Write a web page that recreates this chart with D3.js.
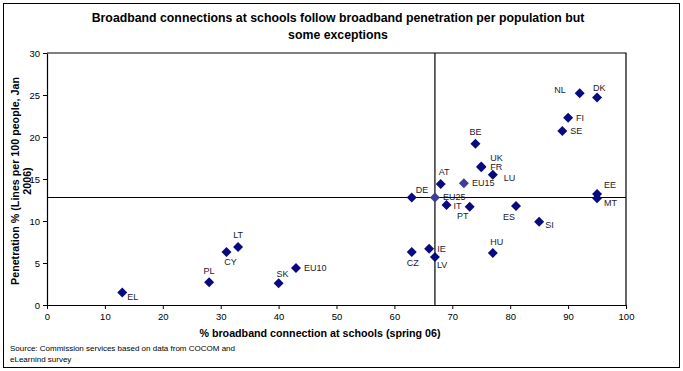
<!DOCTYPE html>
<html>
<head>
<meta charset="utf-8">
<script src="https://cdn.jsdelivr.net/npm/d3@7"></script>
<style>
  body { margin: 0; background: #fff; }
  svg { font-family: "Liberation Sans", Arial, sans-serif; }
</style>
</head>
<body>
<svg id="chart" width="683" height="371"></svg>
<script>
// country codes, % schools with broadband, penetration per 100 people
let codes  = ['DK', 'NL', 'FI', 'SE', 'BE', 'UK', 'FR', 'LU', 'EU15', 'AT', 'DE', 'EU25', 'EE', 'MT',
              'IT', 'PT', 'ES', 'SI', 'CZ', 'IE', 'LV', 'HU', 'EL', 'PL', 'CY', 'LT', 'SK', 'EU10'];
let schools = [95, 92, 90, 89, 74, 75, 75, 77, 72, 68, 63, 67, 95, 95,
               69, 73, 81, 85, 63, 66, 67, 77, 13, 28, 31, 33, 40, 43];
let penetration = [24.7, 25.2, 22.3, 20.7, 19.2, 16.5, 16.4, 15.5, 14.5, 14.4, 12.8, 12.8, 13.2, 12.7,
                   11.9, 11.7, 11.8, 9.9, 6.3, 6.7, 5.7, 6.2, 1.5, 2.7, 6.3, 6.9, 2.6, 4.4];
let xTicks = [0, 10, 20, 30, 40, 50, 60, 70, 80, 90, 100];
let yTicks = [0, 5, 10, 15, 20, 25, 30];
// EU25 averages used for the cross lines
let avgX = 67;
let avgY = 12.8;

// label placement around each marker: [dx, dy, anchor]
let labelPos = {
    DK: [-4, -10, 'start'], NL: [-14, -3, 'end'], FI: [8, 0, 'start'], SE: [8, 0, 'start'],
    BE: [0, -12, 'middle'], UK: [9, -9, 'start'], FR: [9, 0, 'start'], LU: [11, 3, 'start'],
    EU15: [8, 0, 'start'], AT: [-2, -12, 'start'], DE: [4, -8, 'start'], EU25: [8, -1, 'start'],
    EE: [7, -9, 'start'], MT: [7, 5, 'start'], IT: [7, 1, 'start'], PT: [-7, 9, 'middle'],
    ES: [-7, 11, 'middle'], SI: [6, 3, 'start'], CZ: [1, 11, 'middle'], IE: [8, 0, 'start'],
    LV: [2, 8, 'start'], HU: [4, -11, 'middle'], EL: [5, 4, 'start'], PL: [0, -11, 'middle'],
    CY: [4, 10, 'middle'], LT: [0, -12, 'middle'], SK: [4, -9, 'middle'], EU10: [8, 0, 'start']
};

let data = codes.map(function(c, i){ return {code: c, x: schools[i], y: penetration[i]}; });

let svg = d3.select('#chart');
let plotLeft = 47, plotRight = 626, plotTop = 53, plotBottom = 305;

let x = d3.scaleLinear().domain([0, 100]).range([plotLeft, plotRight]);
let y = d3.scaleLinear().domain([0, 30]).range([plotBottom, plotTop]);

// outer frame
svg.append('rect')
    .attr('x', 3.5).attr('y', 3.5)
    .attr('width', 676).attr('height', 364)
    .attr('fill', 'none').attr('stroke', '#000').attr('stroke-width', 1);

// title
svg.append('text')
    .attr('x', 338).attr('y', 0)
    .attr('text-anchor', 'middle')
    .style('font-size', '12.3px').style('font-weight', 'bold')
    .selectAll('tspan')
    .data(['Broadband connections at schools follow broadband penetration per population but', 'some exceptions'])
    .enter().append('tspan')
    .attr('x', 338)
    .attr('y', function(d, i){ return 22 + i * 17; })
    .text(function(d){ return d; });

// plot border top / right
svg.append('path')
    .attr('d', 'M' + x(0) + ',' + y(30) + 'H' + x(100) + 'V' + y(0))
    .attr('fill', 'none').attr('stroke', '#000').attr('stroke-width', 1.2);

// axes
let xAxis = svg.append('g')
    .attr('transform', 'translate(0,' + y(0) + ')')
    .call(d3.axisBottom(x).tickValues(xTicks).tickSize(4).tickSizeOuter(0));
let yAxis = svg.append('g')
    .attr('transform', 'translate(' + x(0) + ',0)')
    .call(d3.axisLeft(y).tickValues(yTicks).tickSize(4).tickSizeOuter(0));
[xAxis, yAxis].forEach(function(a){
    a.select('.domain').attr('stroke', '#000').attr('stroke-width', 1.2);
    a.selectAll('.tick line').attr('stroke', '#000');
    a.selectAll('text')
        .style('font-family', '"Liberation Sans", Arial, sans-serif')
        .style('font-size', '9.5px').attr('fill', '#000');
});
xAxis.selectAll('text').attr('dy', '0.85em');

// cross lines
svg.append('line')
    .attr('x1', x(avgX)).attr('x2', x(avgX))
    .attr('y1', y(30)).attr('y2', y(0))
    .attr('stroke', '#000').attr('stroke-width', 1.2);
svg.append('line')
    .attr('x1', x(0)).attr('x2', x(100))
    .attr('y1', y(avgY)).attr('y2', y(avgY))
    .attr('stroke', '#000').attr('stroke-width', 1.2);

// axis titles
svg.append('text')
    .attr('x', 320).attr('y', 337)
    .attr('text-anchor', 'middle')
    .style('font-size', '10.7px').style('font-weight', 'bold')
    .text('% broadband connection at schools (spring 06)');

svg.append('text')
    .attr('transform', 'translate(0,181) rotate(-90)')
    .attr('text-anchor', 'middle')
    .style('font-size', '10.7px').style('font-weight', 'bold')
    .selectAll('tspan')
    .data(['Penetration % (Lines per 100 people, Jan', '2006)'])
    .enter().append('tspan')
    .attr('x', 0)
    .attr('y', function(d, i){ return 19 + i * 12; })
    .text(function(d){ return d; });

// source note
svg.append('text')
    .attr('x', 10).attr('y', 0)
    .style('font-size', '8px')
    .selectAll('tspan')
    .data(['Source:  Commission services based on data from COCOM and', 'eLearnind survey'])
    .enter().append('tspan')
    .attr('x', 10)
    .attr('y', function(d, i){ return 351 + i * 11; })
    .text(function(d){ return d; });

// markers: squares turned 45 degrees
let diamond = d3.symbol().type(d3.symbolSquare).size(50);
svg.selectAll('path.pt')
    .data(data)
    .enter()
    .append('path')
    .attr('class', 'pt')
    .attr('d', diamond)
    .attr('transform', function(d){ return 'translate(' + x(d.x) + ',' + y(d.y) + ') rotate(45)'; })
    .attr('fill', function(d){ return (d.code === 'EU15' || d.code === 'EU25') ? '#3d3d9c' : '#0a0a80'; });

// labels
svg.selectAll('text.lbl')
    .data(data)
    .enter()
    .append('text')
    .attr('class', 'lbl')
    .attr('x', function(d){ return x(d.x) + labelPos[d.code][0]; })
    .attr('y', function(d){ return y(d.y) + labelPos[d.code][1]; })
    .attr('dy', '0.35em')
    .attr('text-anchor', function(d){ return labelPos[d.code][2]; })
    .style('font-size', '9px')
    .attr('fill', '#1a1a2a')
    .text(function(d){ return d.code; });
</script>
</body>
</html>
